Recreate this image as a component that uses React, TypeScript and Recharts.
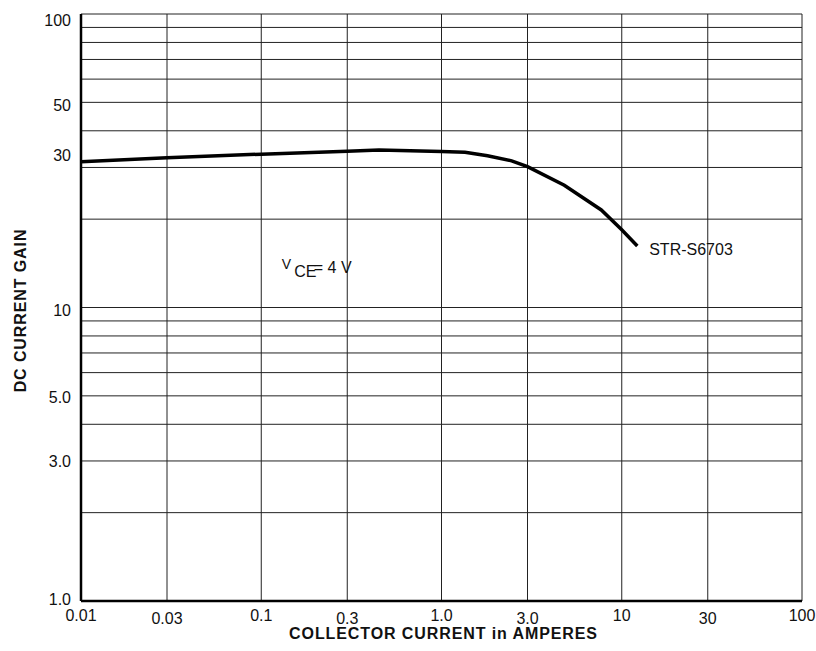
import { LineChart, Line, XAxis, YAxis, CartesianGrid, ReferenceDot, Label } from 'recharts'

// collector current (A) vs DC current gain
const currentA = [0.01, 0.03, 0.1, 0.3, 0.45, 1.0, 1.35, 1.8, 2.45, 3.0, 4.8, 7.7, 10, 12.2]
const gain = [31.4, 32.4, 33.3, 34.1, 34.4, 34.0, 33.8, 32.9, 31.6, 30.2, 26.1, 21.5, 18.4, 16.2]

const xTicks = [0.01, 0.03, 0.1, 0.3, 1, 3, 10, 30, 100]
const xTickLabels = ['0.01', '0.03', '0.1', '0.3', '1.0', '3.0', '10', '30', '100']
const yTicks = [1, 2, 3, 4, 5, 6, 7, 8, 9, 10, 20, 30, 40, 50, 60, 70, 80, 90, 100]
const yLabelled = [1, 3, 5, 10, 30, 50, 100]
const yTickLabels = ['1.0', '3.0', '5.0', '10', '30', '50', '100']

const deviceName = 'STR-S6703'
const vceValue = '= 4 V'

const FONT = '"Liberation Sans", Arial, sans-serif'

const data = currentA.map((c, i) => ({ current: c, gain: gain[i] }))

// the scanned sheet places a few y labels off their lines
const yLabelDy: Record<number, number> = { 100: 12, 50: 9, 30: -6, 10: 8, 5: 7, 3: 6, 1: 4 }

function XTick({ x, y, payload }: any) {
  const idx = xTicks.indexOf(payload.value)
  const staggered = idx % 2 === 1
  return (
    <text x={x} y={y + (staggered ? 22.5 : 20)} textAnchor="middle" fontFamily={FONT} fontSize={16} fill="#111">
      {xTickLabels[idx]}
    </text>
  )
}

function YTick({ x, y, payload }: any) {
  const idx = yLabelled.indexOf(payload.value)
  if (idx < 0) return null
  return (
    <text x={x - 10} y={y + yLabelDy[payload.value]} textAnchor="end" fontFamily={FONT} fontSize={16} fill="#111">
      {yTickLabels[idx]}
    </text>
  )
}

function VceLabel({ cx, cy }: any) {
  return (
    <g fontFamily={FONT} fill="#111">
      <text x={cx} y={cy - 4} fontSize={14}>V</text>
      <text x={cx + 12.4} y={cy + 4} fontSize={16}>CE</text>
      <text x={cx + 32} y={cy} fontSize={16}>{vceValue}</text>
    </g>
  )
}

function DeviceLabel({ cx, cy }: any) {
  return (
    <text x={cx} y={cy} fontFamily={FONT} fontSize={16} fill="#111">
      {deviceName}
    </text>
  )
}

export default function App() {
  return (
    <div style={{ position: 'absolute', left: 0, top: 0, width: 816, height: 651, background: '#fff' }}>
      <LineChart width={816} height={651} data={data} margin={{ top: 14, right: 14, left: 0, bottom: 0 }}>
        <CartesianGrid stroke="#222" strokeWidth={1} vertical horizontal />
        <XAxis
          dataKey="current"
          type="number"
          scale="log"
          domain={[0.01, 100]}
          ticks={xTicks}
          allowDataOverflow
          height={50}
          tickSize={0}
          tickMargin={0}
          tickLine={false}
          axisLine={{ stroke: '#000', strokeWidth: 2.5 }}
          tick={<XTick />}
          interval={0}
        >
          <Label
            content={({ viewBox }: any) => (
              <text
                x={viewBox.x + viewBox.width / 2 + 2}
                y={viewBox.y + 38}
                textAnchor="middle"
                fontFamily={FONT}
                fontSize={16}
                fontWeight="bold"
                letterSpacing={0.9}
                fill="#111"
              >
                COLLECTOR CURRENT in AMPERES
              </text>
            )}
          />
        </XAxis>
        <XAxis
          xAxisId="top"
          orientation="top"
          type="number"
          scale="log"
          domain={[0.01, 100]}
          allowDataOverflow
          height={0}
          tick={false}
          tickLine={false}
          axisLine={{ stroke: '#000', strokeWidth: 2.5 }}
        />
        <YAxis
          type="number"
          scale="log"
          domain={[1, 100]}
          ticks={yTicks}
          allowDataOverflow
          width={81}
          tickSize={0}
          tickMargin={0}
          tickLine={false}
          axisLine={{ stroke: '#000', strokeWidth: 2.5 }}
          tick={<YTick />}
          interval={0}
        >
          <Label
            content={({ viewBox }: any) => {
              const cx = viewBox.x + 20
              const cy = viewBox.y + viewBox.height / 2 + 3
              return (
                <text
                  x={cx}
                  y={cy}
                  transform={`rotate(-90 ${cx} ${cy})`}
                  textAnchor="middle"
                  dominantBaseline="central"
                  fontFamily={FONT}
                  fontSize={16}
                  fontWeight="bold"
                  letterSpacing={0.9}
                  fill="#111"
                >
                  DC CURRENT GAIN
                </text>
              )
            }}
          />
        </YAxis>
        <YAxis
          yAxisId="right"
          orientation="right"
          type="number"
          scale="log"
          domain={[1, 100]}
          allowDataOverflow
          width={0}
          tick={false}
          tickLine={false}
          axisLine={{ stroke: '#000', strokeWidth: 2.5 }}
        />
        <Line
          type="linear"
          dataKey="gain"
          stroke="#000"
          strokeWidth={3.5}
          dot={false}
          isAnimationActive={false}
        />
        <ReferenceDot x={0.13} y={13.1} r={1} fill="none" stroke="none" ifOverflow="visible" shape={(p: any) => <VceLabel cx={p.cx} cy={p.cy} />} />
        <ReferenceDot x={14.2} y={15.1} r={1} fill="none" stroke="none" ifOverflow="visible" shape={(p: any) => <DeviceLabel cx={p.cx} cy={p.cy} />} />
      </LineChart>
    </div>
  )
}
